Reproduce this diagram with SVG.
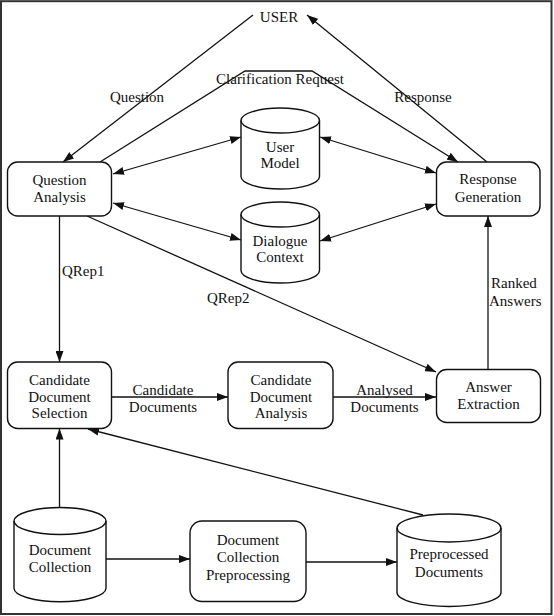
<svg xmlns="http://www.w3.org/2000/svg" width="554" height="616" viewBox="0 0 554 616">
<style>
  text { font-family: "Liberation Serif", "Times New Roman", serif; font-size: 15px; fill: #111; text-anchor: middle; }
  .lbl { text-anchor: start; }
  .box { fill: #fff; stroke: #111; stroke-width: 1.4; }
  .cyl { fill: #fff; stroke: #111; stroke-width: 1.4; }
  .cylf { fill: none; stroke: #111; stroke-width: 1.4; }
  .edge { fill: none; stroke: #111; stroke-width: 1.3; }
  .arr { marker-end: url(#ah); }
  .bi { marker-start: url(#ah); marker-end: url(#ah); }
</style>
<defs>
  <marker id="ah" viewBox="0 0 11 8" refX="11" refY="4" markerWidth="11" markerHeight="8" markerUnits="userSpaceOnUse" orient="auto-start-reverse">
    <path d="M0,0 L11,4 L0,8 z" fill="#111"/>
  </marker>
</defs>
<rect x="0" y="0" width="554" height="616" fill="#fff"/>
<rect x="1" y="1.2" width="550.5" height="612.8" fill="none" stroke="#333" stroke-width="2"/>

<g id="connectors">
  <line class="edge arr" x1="253" y1="15" x2="63" y2="162"/>
  <polyline class="edge arr" points="100,162 245,71 312,71 458,162"/>
  <line class="edge arr" x1="487" y1="162" x2="307" y2="15"/>
  <line class="edge bi" x1="113" y1="174" x2="241" y2="137"/>
  <line class="edge bi" x1="320" y1="137" x2="436" y2="173"/>
  <line class="edge bi" x1="113" y1="203" x2="241" y2="240"/>
  <line class="edge bi" x1="320" y1="241" x2="436" y2="204"/>
  <line class="edge arr" x1="59.5" y1="216" x2="59.5" y2="362"/>
  <line class="edge arr" x1="87" y1="216" x2="436" y2="372"/>
  <line class="edge arr" x1="488" y1="370" x2="488" y2="216"/>
  <line class="edge arr" x1="112" y1="397" x2="228" y2="397"/>
  <line class="edge arr" x1="333" y1="397" x2="436" y2="397"/>
  <line class="edge arr" x1="59.5" y1="508" x2="59.5" y2="428.5"/>
  <line class="edge arr" x1="423" y1="515" x2="88" y2="429"/>
  <line class="edge arr" x1="106" y1="559" x2="190" y2="559"/>
  <line class="edge arr" x1="306" y1="562" x2="397" y2="562"/>
  <text x="137" y="102">Question</text>
  <text x="280" y="84">Clarification Request</text>
  <text x="423" y="102">Response</text>
  <text class="lbl" x="62" y="276">QRep1</text>
  <text class="lbl" x="207" y="303">QRep2</text>
  <text class="lbl" x="491" y="288">Ranked</text>
  <text class="lbl" x="489" y="306">Answers</text>
  <text x="163" y="395">Candidate</text>
  <text x="163" y="412">Documents</text>
  <text x="384.5" y="395">Analysed</text>
  <text x="384.5" y="412">Documents</text>
</g>

<g id="user">
  <text x="279" y="22">USER</text>
</g>

<g id="question-analysis">
  <rect class="box" x="7.5" y="162" width="104" height="54" rx="10"/>
  <text x="59.5" y="185">Question</text>
  <text x="59.5" y="202">Analysis</text>
</g>

<g id="response-generation">
  <rect class="box" x="436.5" y="162" width="103.5" height="54" rx="10"/>
  <text x="488" y="184">Response</text>
  <text x="488" y="202">Generation</text>
</g>

<g id="user-model">
  <path class="cyl" d="M241,120.5 L241,176.5 A39.25,12.5 0 0 0 319.5,176.5 L319.5,120.5 A39.25,12.5 0 0 0 241,120.5 Z"/>
  <path class="cylf" d="M241,120.5 A39.25,12.5 0 0 0 319.5,120.5"/>
  <text x="280" y="152">User</text>
  <text x="280" y="168">Model</text>
</g>

<g id="dialogue-context">
  <path class="cyl" d="M241,214.5 L241,270.5 A39.25,12.5 0 0 0 319.5,270.5 L319.5,214.5 A39.25,12.5 0 0 0 241,214.5 Z"/>
  <path class="cylf" d="M241,214.5 A39.25,12.5 0 0 0 319.5,214.5"/>
  <text x="280" y="246">Dialogue</text>
  <text x="280" y="262">Context</text>
</g>

<g id="candidate-document-selection">
  <rect class="box" x="7.5" y="362" width="104" height="66.5" rx="10"/>
  <text x="59.5" y="385">Candidate</text>
  <text x="59.5" y="402">Document</text>
  <text x="59.5" y="418">Selection</text>
</g>

<g id="candidate-document-analysis">
  <rect class="box" x="228" y="362" width="105" height="66.5" rx="10"/>
  <text x="281" y="385">Candidate</text>
  <text x="281" y="402">Document</text>
  <text x="281" y="418">Analysis</text>
</g>

<g id="answer-extraction">
  <rect class="box" x="436.5" y="369.5" width="104" height="53" rx="10"/>
  <text x="488.5" y="392">Answer</text>
  <text x="488.5" y="409">Extraction</text>
</g>

<g id="document-collection">
  <path class="cyl" d="M14,521 L14,588.2 A46,13.5 0 0 0 106,588.2 L106,521 A46,13.5 0 0 0 14,521 Z"/>
  <path class="cylf" d="M14,521 A46,13.5 0 0 0 106,521"/>
  <text x="60" y="555">Document</text>
  <text x="60" y="572">Collection</text>
</g>

<g id="document-collection-preprocessing">
  <rect class="box" x="190" y="521" width="116" height="80.5" rx="12"/>
  <text x="248" y="545">Document</text>
  <text x="248" y="562">Collection</text>
  <text x="248" y="580">Preprocessing</text>
</g>

<g id="preprocessed-documents">
  <path class="cyl" d="M397,528 L397,592.5 A52,14 0 0 0 501,592.5 L501,528 A52,14 0 0 0 397,528 Z"/>
  <path class="cylf" d="M397,528 A52,14 0 0 0 501,528"/>
  <text x="449" y="559">Preprocessed</text>
  <text x="449" y="577">Documents</text>
</g>
</svg>
